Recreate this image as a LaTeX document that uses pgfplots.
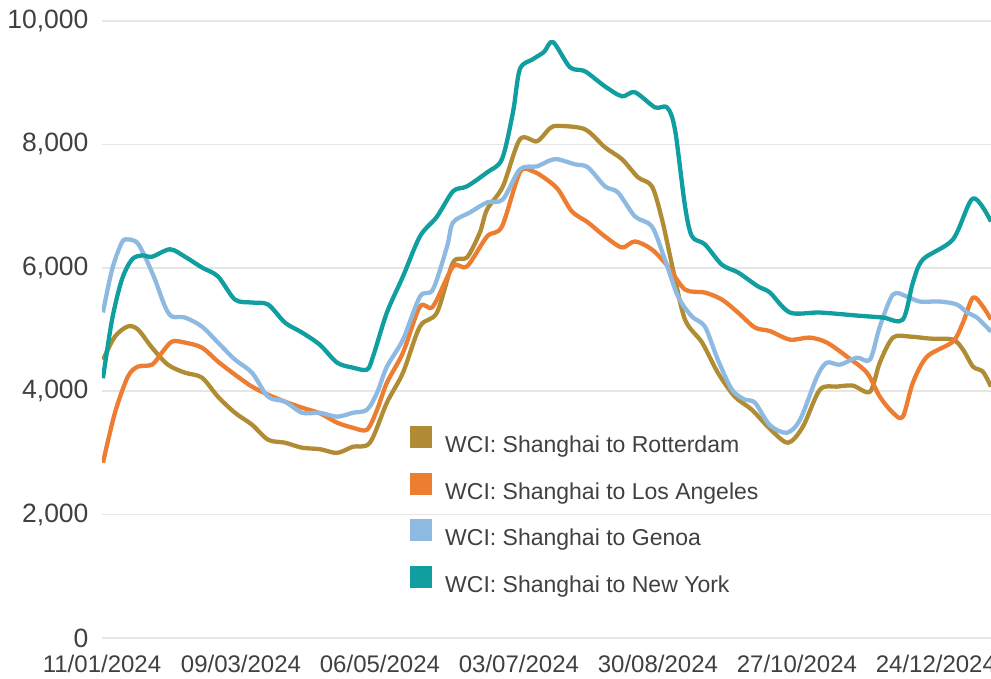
\documentclass[border=0pt]{standalone}
\usepackage{fontspec}
\setmainfont{Liberation Sans}
\usepackage{pgfplots}
\pgfplotsset{compat=1.18}
\definecolor{cgold}{RGB}{176,141,52}
\definecolor{corange}{RGB}{237,125,49}
\definecolor{cblue}{RGB}{142,186,226}
\definecolor{cteal}{RGB}{16,158,160}
\definecolor{cgrid}{RGB}{230,230,230}
\definecolor{ctext}{RGB}{64,64,64}
\begin{document}
\begin{tikzpicture}
\path[use as bounding box] (-102pt,-40pt) rectangle (889pt,638pt);
\begin{axis}[
  at={(0pt,0pt)}, anchor=south west,
  scale only axis, width=889pt, height=617pt,
  xmin=0, xmax=371, ymin=0, ymax=10000,
  axis line style={draw=none}, tick style={draw=none},
  ymajorgrids, grid style={cgrid, line width=1.6pt},
  ytick={0,2000,4000,6000,8000,10000},
  xtick={0,58,116,174,232,290,348},
  xticklabels={11/01/2024,09/03/2024,06/05/2024,03/07/2024,30/08/2024,27/10/2024,24/12/2024},
  /pgf/number format/assume math mode=true,
  /pgf/number format/1000 sep={,},
  scaled y ticks=false,
  xticklabel style={font=\fontsize{24}{24}\selectfont, text=ctext, yshift=-15.5pt, inner sep=1pt},
  yticklabel style={font=\fontsize{26.5}{26.5}\selectfont, text=ctext, xshift=-10pt},
  legend style={draw=none, fill=none, at={(axis description cs:0.3465,0.3436)}, anchor=north west,
     inner sep=0pt, row sep=16.5pt, font=\fontsize{23}{23}\selectfont, text=ctext,
     legend cell align=left,
     /tikz/every odd column/.append style={column sep=11pt}},
  legend image code/.code={\fill[#1,draw=none] (0pt,-3pt) rectangle (22pt,19pt);},
  every axis plot/.append style={line width=4.3pt, smooth, line join=round},
]
\addplot[color=cgold] table {
0.4 4510
5.4 4885
10.8 5050
15.0 5000
20.9 4705
27.5 4430
34.6 4300
41.7 4220
48.4 3910
55.5 3650
62.6 3457
69.3 3213
76.4 3165
83.5 3084
91.0 3060
98.1 3000
104.7 3100
111.8 3165
118.9 3815
125.6 4300
132.7 5050
139.8 5275
146.5 6086
152.3 6167
157.7 6573
160.7 6946
167.3 7320
174.4 8082
181.5 8050
186.9 8260
190.3 8300
201.5 8245
209.9 7953
217.0 7760
223.7 7466
229.5 7320
233.7 6785
238.3 5972
243.3 5160
250.4 4790
257.0 4300
264.1 3911
271.2 3700
279.0 3380
286.3 3165
292.5 3425
299.6 4025
306.7 4074
313.4 4090
320.5 3993
324.6 4463
330.1 4869
337.2 4885
345.5 4853
355.1 4836
359.3 4674
363.5 4398
367.6 4317
371.0 4074
};
\addlegendentry{WCI: Shanghai to Rotterdam}
\addplot[color=corange] table {
0.4 2840
5.4 3650
10.8 4236
15.0 4398
20.9 4430
25.0 4625
29.2 4804
34.6 4788
41.7 4706
48.4 4480
55.5 4268
62.6 4074
69.3 3944
76.4 3830
83.5 3733
91.0 3640
98.1 3490
104.7 3408
110.6 3376
114.8 3700
118.9 4138
125.6 4625
132.7 5372
138.1 5372
146.5 6021
152.3 6021
160.7 6508
166.9 6670
174.4 7547
179.8 7563
184.9 7450
190.3 7271
196.1 6914
202.8 6735
209.9 6508
217.0 6330
222.4 6427
229.5 6297
236.2 6021
243.3 5648
251.6 5599
258.7 5485
265.4 5275
272.5 5031
278.7 4975
287.1 4836
295.4 4869
302.5 4788
310.9 4560
319.2 4300
324.6 3911
330.1 3650
334.2 3587
338.4 4138
344.3 4560
355.1 4804
359.3 5112
363.5 5518
367.6 5372
371.0 5161
};
\addlegendentry{WCI: Shanghai to Los Angeles}
\addplot[color=cblue] table {
0.4 5275
4.2 5973
8.3 6411
10.8 6460
14.6 6411
17.9 6184
22.1 5810
26.3 5372
29.2 5210
34.6 5194
41.7 5047
48.4 4788
55.5 4512
62.6 4300
69.3 3911
76.4 3830
83.5 3650
91.0 3650
98.1 3587
104.7 3650
110.6 3700
114.8 3976
118.9 4398
125.6 4836
132.7 5534
138.1 5648
144.0 6346
146.5 6735
153.6 6898
160.7 7060
167.3 7109
174.4 7596
181.5 7644
186.9 7740
190.3 7758
197.4 7677
202.8 7628
209.9 7320
215.3 7222
222.4 6833
229.5 6670
234.9 6135
240.4 5534
246.2 5210
251.6 5047
257.0 4512
262.9 4025
268.3 3863
272.5 3814
278.7 3450
285.8 3327
291.3 3538
298.4 4236
302.5 4463
308.0 4430
315.0 4544
320.5 4512
324.6 5047
330.1 5567
335.9 5534
341.3 5453
349.7 5453
356.8 5404
361.0 5275
365.1 5194
371.0 4966
};
\addlegendentry{WCI: Shanghai to Genoa}
\addplot[color=cteal] table {
0.4 4210
4.2 5160
8.3 5810
12.5 6135
16.7 6200
20.9 6180
28.4 6300
34.6 6180
41.7 6005
48.4 5860
55.5 5485
62.6 5437
69.3 5405
76.4 5110
83.5 4950
91.0 4750
98.1 4463
104.7 4382
110.6 4350
113.1 4560
118.9 5275
125.6 5860
132.7 6510
139.8 6830
146.5 7240
152.3 7320
160.7 7547
166.9 7760
171.5 8520
174.4 9220
179.8 9380
184.5 9500
188.2 9660
195.3 9250
201.5 9186
209.9 8940
217.0 8780
222.4 8845
230.8 8600
235.8 8600
239.1 8245
243.3 7000
246.2 6510
251.6 6380
258.7 6050
265.4 5925
273.7 5700
278.7 5600
287.1 5275
299.6 5275
315.0 5226
325.9 5194
334.2 5160
338.4 5760
342.6 6135
355.1 6460
363.5 7125
371.0 6750
};
\addlegendentry{WCI: Shanghai to New York}
\end{axis}
\end{tikzpicture}
\end{document}
